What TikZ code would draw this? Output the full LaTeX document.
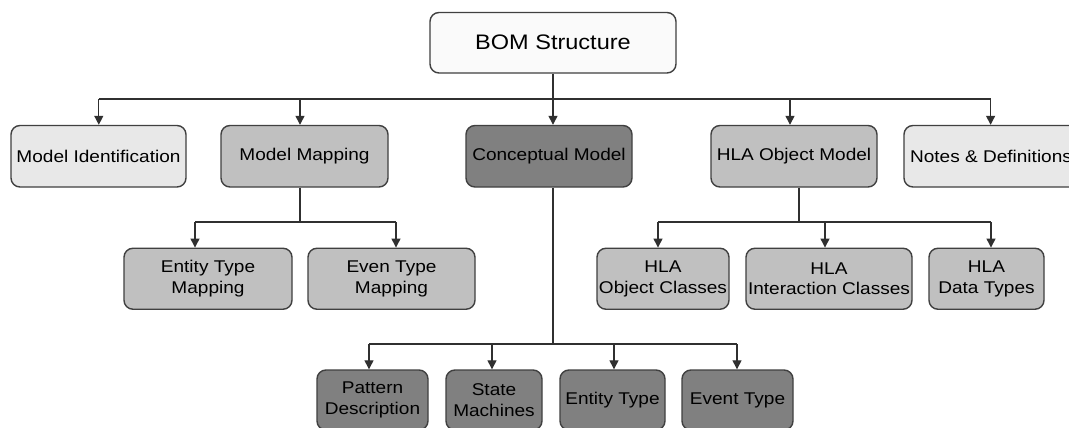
\documentclass[tikz,border=0pt]{standalone}
\usepackage{fontspec}
\setmainfont{Liberation Sans}[FakeStretch=1.12]
\usetikzlibrary{arrows.meta}

\definecolor{linegray}{HTML}{303030}
\definecolor{edgegray}{HTML}{404040}
\definecolor{rootfill}{HTML}{FAFAFA}
\definecolor{lightfill}{HTML}{E8E8E8}
\definecolor{midfill}{HTML}{C0C0C0}
\definecolor{darkfill}{HTML}{808080}

\tikzset{
  box/.style={draw=edgegray, line width=1.4pt, rounded corners=9pt,
    inner sep=0pt, align=center, text=black,
    font=\fontsize{17}{20.5}\selectfont},
  rootbox/.style={box, fill=rootfill, font=\fontsize{21}{24}\selectfont},
  lightbox/.style={box, fill=lightfill},
  midbox/.style={box, fill=midfill},
  darkbox/.style={box, fill=darkfill},
  wire/.style={draw=linegray, line width=1.3pt},
  arrow/.style={wire, -{Triangle[width=9pt,length=9pt]}}
}

\begin{document}
\begin{tikzpicture}[x=1pt, y=-1pt]
  \useasboundingbox (0,0) rectangle (1069,428);
  \fill[white] (0,0) rectangle (1069,428);
  \clip (0,0) rectangle (1069,428);

  % root
  \node[rootbox, minimum width=246pt, minimum height=60.5pt] (bom) at (553,42.75) {BOM Structure};

  % first level
  \node[lightbox, minimum width=175pt, minimum height=61.5pt] (mi)  at (98.5,156.25) {Model Identification};
  \node[midbox,   minimum width=167pt, minimum height=61.5pt] (mm)  at (304.5,156.25) {Model Mapping};
  \node[darkbox,  minimum width=166pt, minimum height=61.5pt] (cm)  at (549,156.25) {Conceptual Model};
  \node[midbox,   minimum width=166pt, minimum height=61.5pt] (hom) at (794,156.25) {HLA Object Model};
  \node[lightbox, minimum width=174pt, minimum height=61.5pt] (nd)  at (991,156.25) {Notes \& Definitions};

  % model mapping children
  \node[midbox, minimum width=168pt, minimum height=61pt] (etm) at (208,278.75) {Entity Type\\Mapping};
  \node[midbox, minimum width=167pt, minimum height=61pt] (evm) at (391.5,278.75) {Even Type\\Mapping};

  % HLA object model children
  \node[midbox, minimum width=132pt, minimum height=61pt] (hoc) at (663,278.75) {HLA\\Object Classes};
  \node[midbox, minimum width=166pt, minimum height=61pt] (hic) at (829,278.75) {HLA\\Interaction Classes};
  \node[midbox, minimum width=115pt, minimum height=61pt] (hdt) at (986.5,278.75) {HLA\\Data Types};

  % conceptual model children
  \node[darkbox, minimum width=111pt, minimum height=60pt] (pd)  at (372.5,400) {Pattern\\Description};
  \node[darkbox, minimum width=96pt,  minimum height=60pt] (sm)  at (494,400) {State\\Machines};
  \node[darkbox, minimum width=105pt, minimum height=60pt] (et)  at (612.5,400) {Entity Type};
  \node[darkbox, minimum width=111pt, minimum height=60pt] (evt) at (737.5,400) {Event Type};

  % junction points
  \coordinate (b1) at (98.8,99);
  \coordinate (b2) at (300,99);
  \coordinate (b3) at (553,99);
  \coordinate (b4) at (790,99);
  \coordinate (b5) at (990.6,99);

  \coordinate (mmd) at (300,222);
  \coordinate (m1) at (195,222);
  \coordinate (m2) at (396,222);

  \coordinate (hd) at (799,222);
  \coordinate (h1) at (658,222);
  \coordinate (h2) at (825,222);
  \coordinate (h3) at (991,222);

  \coordinate (cd) at (553,344);
  \coordinate (c1) at (369,344);
  \coordinate (c2) at (492,344);
  \coordinate (c3) at (614,344);
  \coordinate (c4) at (737,344);

  % root to first level
  \draw[wire] (b1) -- (b5);
  \draw[arrow] (bom.south -| b3) -- (b3 |- cm.north);
  \draw[arrow] (b1) -- (b1 |- mi.north);
  \draw[arrow] (b2) -- (b2 |- mm.north);
  \draw[arrow] (b4) -- (b4 |- hom.north);
  \draw[arrow] (b5) -- (b5 |- nd.north);

  % model mapping branch
  \draw[wire] (mmd |- mm.south) -- (mmd);
  \draw[wire] (m1) -- (m2);
  \draw[arrow] (m1) -- (m1 |- etm.north);
  \draw[arrow] (m2) -- (m2 |- evm.north);

  % HLA object model branch
  \draw[wire] (hd |- hom.south) -- (hd);
  \draw[wire] (h1) -- (h3);
  \draw[arrow] (h1) -- (h1 |- hoc.north);
  \draw[arrow] (h2) -- (h2 |- hic.north);
  \draw[arrow] (h3) -- (h3 |- hdt.north);

  % conceptual model branch
  \draw[wire] (cd |- cm.south) -- (cd);
  \draw[wire] (c1) -- (c4);
  \draw[arrow] (c1) -- (c1 |- pd.north);
  \draw[arrow] (c2) -- (c2 |- sm.north);
  \draw[arrow] (c3) -- (c3 |- et.north);
  \draw[arrow] (c4) -- (c4 |- evt.north);
\end{tikzpicture}
\end{document}
